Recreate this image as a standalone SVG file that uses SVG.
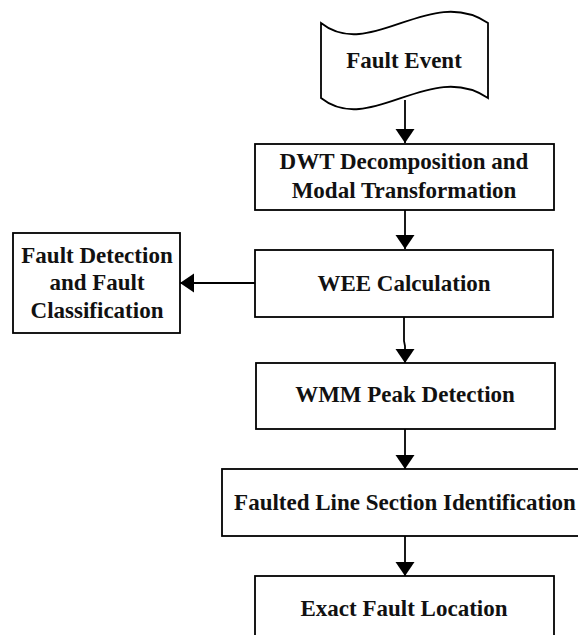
<svg xmlns="http://www.w3.org/2000/svg" width="578" height="635" viewBox="0 0 578 635">
  <style>
    .box { fill: #ffffff; stroke: #000000; stroke-width: 1.8; }
    .lbl { font-family: "Liberation Serif", "Times New Roman", serif; font-weight: bold; font-size: 23px; fill: #111111; text-anchor: middle; }
    .edge { fill: none; stroke: #000000; stroke-width: 1.8; }
  </style>
  <defs>
    <marker id="arrow" markerUnits="userSpaceOnUse" markerWidth="20" markerHeight="20" viewBox="0 0 14 20" refX="14" refY="10" orient="auto">
      <path d="M0,0.5 L14,10 L0,19.5 Z" fill="#000000"/>
    </marker>
  </defs>
  <rect width="578" height="635" fill="#ffffff"/>

  <g id="connectors">
    <line class="edge" x1="405" y1="100" x2="405" y2="143" marker-end="url(#arrow)"/>
    <line class="edge" x1="405" y1="210" x2="405" y2="249" marker-end="url(#arrow)"/>
    <line class="edge" x1="255" y1="283" x2="180" y2="283" marker-end="url(#arrow)"/>
    <polyline class="edge" points="404,317 404,341 405,346 405,363" marker-end="url(#arrow)"/>
    <line class="edge" x1="405" y1="429" x2="405" y2="469" marker-end="url(#arrow)"/>
    <line class="edge" x1="405" y1="536" x2="405" y2="576" marker-end="url(#arrow)"/>
  </g>

  <g id="fault-event">
    <path class="box" d="M321,23 C370,62 430,-16 488,23 L488,98 C430,59 370,137 321,98 Z"/>
    <text class="lbl" x="404" y="68">Fault Event</text>
  </g>

  <g id="dwt">
    <rect class="box" x="255" y="144" width="299" height="66"/>
    <text class="lbl" x="404" y="169">DWT Decomposition and</text>
    <text class="lbl" x="404" y="198">Modal Transformation</text>
  </g>

  <g id="wee">
    <rect class="box" x="255" y="250" width="298" height="67"/>
    <text class="lbl" x="404" y="291">WEE Calculation</text>
  </g>

  <g id="fault-detection">
    <rect class="box" x="13" y="233" width="167" height="100"/>
    <text class="lbl" x="97" y="263">Fault Detection</text>
    <text class="lbl" x="97" y="290">and Fault</text>
    <text class="lbl" x="97" y="318">Classification</text>
  </g>

  <g id="wmm">
    <rect class="box" x="256" y="363" width="299" height="66"/>
    <text class="lbl" x="405" y="402">WMM Peak Detection</text>
  </g>

  <g id="faulted-line">
    <rect class="box" x="222" y="469" width="380" height="67"/>
    <text class="lbl" x="405" y="510">Faulted Line Section Identification</text>
  </g>

  <g id="exact-location">
    <rect class="box" x="255" y="576" width="299" height="80"/>
    <text class="lbl" x="404" y="616">Exact Fault Location</text>
  </g>
</svg>
